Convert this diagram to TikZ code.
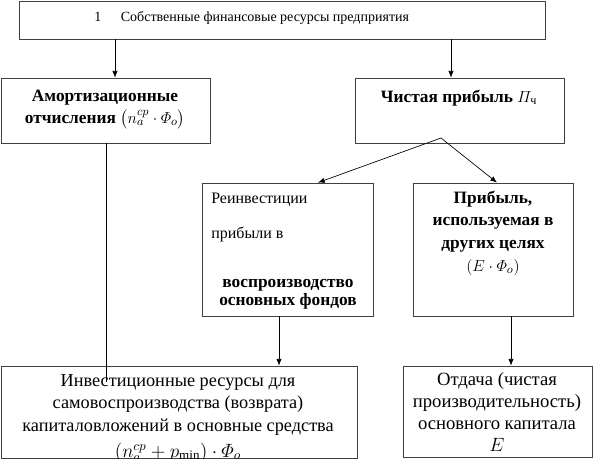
\documentclass[tikz,border=0pt]{standalone}
\usepackage{amsmath}
\usepackage{fontspec}
\setmainfont{Liberation Serif}
\usetikzlibrary{arrows.meta,fit,positioning}
\newcommand{\topline}{\rule{0pt}{12pt}}
\tikzset{
  box/.style={draw=black!75, line width=0.6pt, inner sep=0pt},
  arr/.style={-{Latex[length=5pt,width=4pt]}, line width=0.5pt},
  lin/.style={line width=0.5pt},
  txt/.style={inner sep=0pt, anchor=north, align=center},
  one/.style={inner sep=0pt, anchor=base},
}
\begin{document}
\begin{tikzpicture}[x=0.75pt,y=-0.75pt]
        \useasboundingbox (0,0) rectangle (596,462);
        % boxes
        \node[box, fit={(19,1) (545,39)}] (src) {};
        \node[box, fit={(1,78) (210,143)}] (amort) {};
        \node[box, fit={(355,78) (564,143)}] (net) {};
        \node[box, fit={(202,183) (373,316)}] (reinv) {};
        \node[box, fit={(413,183) (573,316)}] (other) {};
        \node[box, fit={(1,366) (357,458)}] (invest) {};
        \node[box, fit={(403,366) (592,457)}] (yield) {};

        % texts
        \node[one, anchor=base west, font=\fontsize{10.5}{13}\selectfont] (srcT) at (94,21) {1\hspace{1.4em}Собственные финансовые ресурсы предприятия};
        \node[txt, font=\fontsize{13}{16.5}\selectfont\bfseries] (amortT) at (105,85) {\topline Амортизационные\\отчисления $\left(n_a^{cp}\cdot\varPhi_o\right)$};
        \node[one, font=\fontsize{13}{16}\selectfont\bfseries] (netT) at (459,102) {Чистая прибыль $\varPi_{\text{\mdseries ч}}$};
        \node[one, anchor=base west, font=\fontsize{12}{14}\selectfont] (reinvA) at (211,203) {Реинвестиции};
        \node[one, anchor=base west, font=\fontsize{12}{14}\selectfont] (reinvB) at (211,238) {прибыли в};
        \node[txt, font=\fontsize{13}{13.5}\selectfont\bfseries] (reinvC) at (288,271) {\topline воспроизводство\\основных фондов};
        \node[txt, font=\fontsize{13}{17}\selectfont\bfseries] (otherT) at (493,187) {\topline Прибыль,\\используемая в\\других целях\\\mdseries$\left(E\cdot\varPhi_o\right)$};
        \node[txt, font=\fontsize{13.7}{17}\selectfont] (investT) at (178,370) {\topline Инвестиционные ресурсы для\\самовоспроизводства (возврата)\\капиталовложений в основные средства};
        % formula cut by the box edge, as in the source
        \begin{scope}
          \clip (invest.north west) rectangle (invest.south east);
          \node[one, font=\fontsize{14}{16}\selectfont] (investF) at (178,457) {$\left(n_a^{cp}+p_{\min}\right)\cdot\varPhi_o$};
        \end{scope}
        \node[txt, font=\fontsize{14}{16.5}\selectfont] (yieldT) at (497,369) {\topline Отдача (чистая\\производительность)\\основного капитала\\$E$};

        % connectors
        \coordinate (c1) at (115,0);
        \coordinate (c2) at (451,0);
        \coordinate (c3) at (106,0);
        \coordinate (c4) at (279,0);
        \coordinate (c5) at (511,0);
        \coordinate (fork) at (441,138);
        \coordinate (leftEnd) at (106,382);
        \draw[arr] (src.south -| c1) -- (amort.north -| c1);
        \draw[arr] (src.south -| c2) -- (net.north -| c2);
        \draw[arr] (fork) -- (reinv.north -| 318,0);
        \draw[arr] (fork) -- (other.north -| 497,0);
        \draw[lin] (amort.south -| c3) -- (leftEnd);
        \draw[arr] (reinv.south -| c4) -- (invest.north -| c4);
        \draw[arr] (other.south -| c5) -- (yield.north -| c5);
\end{tikzpicture}
\end{document}
